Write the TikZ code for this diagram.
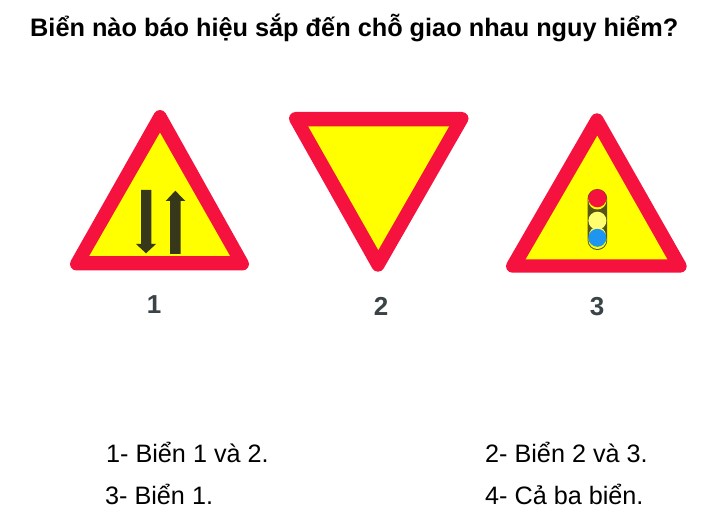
\documentclass[tikz,border=0pt]{standalone}
\usepackage{fontspec}
\setmainfont{Liberation Sans}
\definecolor{signred}{HTML}{F5123F}
\definecolor{signyellow}{HTML}{FFFF00}
\definecolor{arrowdark}{HTML}{37371A}
\definecolor{numgray}{HTML}{3A4446}
\definecolor{lampblue}{HTML}{1E96F0}
\definecolor{lamppale}{HTML}{FFFF70}
\tikzset{
  outertri/.style={fill=signred,draw=signred,line width=13pt,line join=round},
  innertri/.style={fill=signyellow},
  arrowshape/.style={fill=arrowdark},
  title/.style={anchor=base west,inner sep=0pt,font=\fontsize{25.3}{28}\selectfont\bfseries},
  answer/.style={anchor=base west,inner sep=0pt,font=\fontsize{25.2}{28}\selectfont},
  signnum/.style={anchor=base,inner sep=0pt,text=numgray,font=\fontsize{26}{28}\selectfont\bfseries}
}
\begin{document}
\begin{tikzpicture}[x=1pt,y=-1pt]
\useasboundingbox[fill=white] (0,0) rectangle (716,524);
\node[title] (ttl) at (30,37) {Biển nào báo hiệu sắp đến chỗ giao nhau nguy hiểm?};
% sign 1
\draw[outertri] (160,116.5) -- (76.5,264) -- (242.5,264) -- cycle;
\fill[innertri] (160,132.7) -- (89.3,256) -- (230,256) -- cycle;
\fill[arrowshape] (141,190) -- (151.3,190) -- (151.3,244) -- (156,244) -- (146,253.3) -- (136,244) -- (141,244) -- cycle;
\fill[arrowshape] (170,254) -- (180.7,254) -- (180.7,201) -- (185.3,201) -- (175.3,190.7) -- (165.7,201) -- (170,201) -- cycle;
\node[signnum] (n1) at (154,313) {1};
% sign 2
\draw[outertri] (295.5,118.5) -- (462,118.5) -- (378,265.2) -- cycle;
\fill[innertri] (308.3,126.5) -- (449,126.5) -- (378.3,250) -- cycle;
\node[signnum] (n2) at (381,316) {2};
% sign 3
\draw[outertri] (597,119.8) -- (512.5,266.2) -- (680.2,266.2) -- cycle;
\fill[innertri] (597.3,135.7) -- (525.7,259.3) -- (667.3,259.3) -- cycle;
\fill[arrowdark!85!yellow,rounded corners=9.7pt] (587.6,189) rectangle (607.2,250);
\fill[signyellow] (597.4,200.5) circle (9);
\fill[signred] (597.4,198.3) circle (9);
\fill[lamppale] (597.4,220.7) circle (9);
\fill[signyellow] (597.4,240) circle (9);
\fill[lamppale] (597.4,235.5) circle (8.5);
\fill[lampblue] (597.4,237.8) circle (9);
\node[signnum] (n3) at (597,316) {3};
% answers
\node[answer] (a1) at (106,462) {1- Biển 1 và 2.};
\node[answer] (a2) at (485,462) {2- Biển 2 và 3.};
\node[answer] (a3) at (105,504.5) {3- Biển 1.};
\node[answer] (a4) at (485,504.5) {4- Cả ba biển.};
\end{tikzpicture}
\end{document}
